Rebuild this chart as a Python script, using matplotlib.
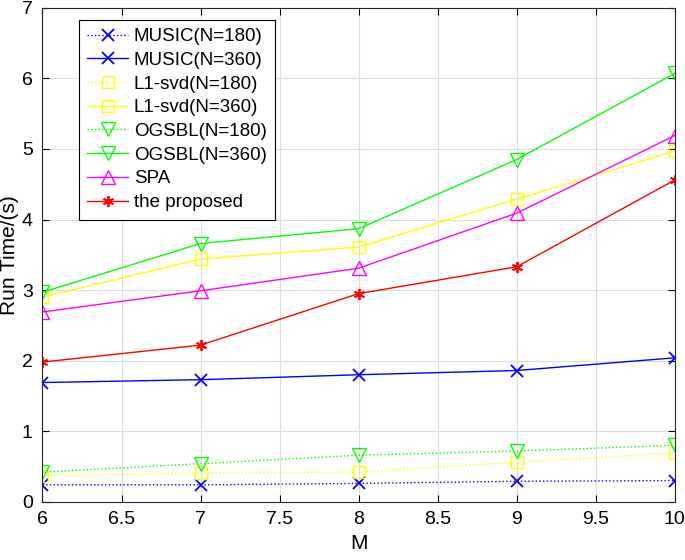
import numpy as np
import matplotlib
matplotlib.use('Agg')
import matplotlib.pyplot as plt

plt.rcParams['font.family'] = ['Liberation Sans Narrow', 'Liberation Sans', 'DejaVu Sans']

# --- data ---------------------
M = [6, 7, 8, 9, 10]

music_180 = [0.24, 0.24, 0.26, 0.29, 0.30]
music_360 = [1.69, 1.73, 1.80, 1.86, 2.04]
l1svd_180 = [0.37, 0.41, 0.42, 0.56, 0.69]
l1svd_360 = [2.90, 3.44, 3.61, 4.29, 4.97]
ogsbl_180 = [0.42, 0.54, 0.66, 0.72, 0.80]
ogsbl_360 = [2.97, 3.66, 3.87, 4.85, 6.07]
spa = [2.69, 2.99, 3.31, 4.09, 5.19]
proposed = [1.98, 2.22, 2.95, 3.33, 4.56]

# --- plot ---------------------
fig = plt.figure(figsize=(6.85, 5.6), dpi=100)
ax = fig.add_axes([0.062, 0.104, 0.923, 0.882])

ms = 8
mew = 1.0
ax.plot(M, music_180, ':', color='b', marker='x', ms=ms, mew=1.3, lw=1.0, label='MUSIC(N=180)')
ax.plot(M, music_360, '-', color='b', marker='x', ms=ms, mew=1.3, lw=1.0, label='MUSIC(N=360)')
ax.plot(M, l1svd_180, ':', color='yellow', marker='s', ms=ms, mew=mew, mfc='none', lw=1.0, label='L1-svd(N=180)')
ax.plot(M, l1svd_360, '-', color='yellow', marker='s', ms=ms, mew=mew, mfc='none', lw=1.0, label='L1-svd(N=360)')
ax.plot(M, ogsbl_180, ':', color='lime', marker='v', ms=10, mew=mew, mfc='none', lw=1.0, label='OGSBL(N=180)')
ax.plot(M, ogsbl_360, '-', color='lime', marker='v', ms=10, mew=mew, mfc='none', lw=1.0, label='OGSBL(N=360)')
ax.plot(M, spa, '-', color='magenta', marker='^', ms=10, mew=mew, mfc='none', lw=1.0, label='SPA')
ax.plot(M, proposed, '-', color='r', marker=(6, 2, 0), ms=ms, mew=1.3, lw=1.0, label='the proposed')

ax.set_xlim(6, 10)
ax.set_ylim(0, 7)
ax.set_xticks(np.arange(6, 10.01, 0.5))
ax.set_xticklabels(['6', '6.5', '7', '7.5', '8', '8.5', '9', '9.5', '10'])
ax.set_yticks(range(0, 8))

ax.grid(True, color='#dcdcdc', lw=0.8)
ax.set_axisbelow(True)
ax.tick_params(direction='in', top=True, right=True, labelsize=14, length=5, pad=7)
for s in ax.spines.values():
	s.set_linewidth(0.8)
	s.set_color('#262626')

ax.set_xlabel('M', fontsize=15, labelpad=4)
ax.set_ylabel('Run Time/(s)', fontsize=15, labelpad=2)

leg = ax.legend(loc='upper left', bbox_to_anchor=(0.057, 0.976), fontsize=13.5,
	fancybox=False, framealpha=1.0, edgecolor='k', handlelength=2.2,
	labelspacing=0.35, borderpad=0.45, handletextpad=0.3, borderaxespad=0.0)
leg.get_frame().set_linewidth(0.8)

fig.savefig('out.png', dpi=100)
plt.close()
